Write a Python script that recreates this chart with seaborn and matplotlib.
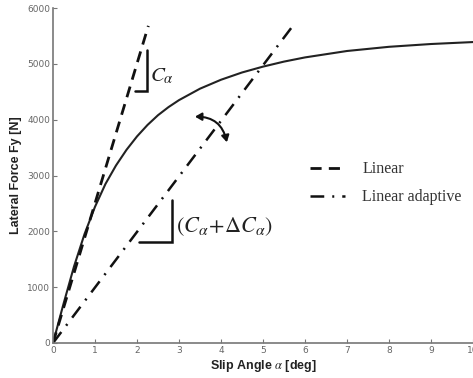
import numpy as np
import pandas as pd
import matplotlib
matplotlib.use("Agg")
import matplotlib.pyplot as plt
from matplotlib.patches import FancyArrowPatch
import seaborn as sns

# Nonlinear tyre lateral force vs slip angle
slip_deg = [0, 0.25, 0.5, 0.75, 1.0, 1.25, 1.5, 1.75, 2.0, 2.25, 2.5, 2.75,
            3.0, 3.5, 4.0, 4.5, 5.0, 5.5, 6.0, 7.0, 8.0, 9.0, 10.0]
force_n = [0, 700, 1370, 1950, 2440, 2850, 3180, 3460, 3700, 3905, 4080, 4225,
           4350, 4555, 4715, 4845, 4950, 5040, 5115, 5230, 5305, 5355, 5390]

# Linear approximations (end points of each line)
linear_x = [0, 2.27]
linear_y = [0, 5680]
adaptive_x = [0, 5.72]
adaptive_y = [0, 5690]

x_ticks = [0, 1, 2, 3, 4, 5, 6, 7, 8, 9, 10]
y_ticks = [0, 1000, 2000, 3000, 4000, 5000, 6000]

sns.set_style("ticks")
plt.rcParams["mathtext.fontset"] = "stix"

W, H = 473, 378
fig = plt.figure(figsize=(W / 100, H / 100), dpi=100)
ax = fig.add_axes([53 / W, (H - 343) / H, 420 / W, 335 / H])

curve = pd.DataFrame({"slip": slip_deg, "force": force_n})
lin = pd.DataFrame({"slip": linear_x, "force": linear_y})
adp = pd.DataFrame({"slip": adaptive_x, "force": adaptive_y})

sns.lineplot(data=curve, x="slip", y="force", ax=ax, color="#222222",
             lw=1.5, sort=False)
sns.lineplot(data=lin, x="slip", y="force", ax=ax, color="#111111",
             lw=2.0, sort=False, label="Linear", dashes=False)
sns.lineplot(data=adp, x="slip", y="force", ax=ax, color="#111111",
             lw=1.8, sort=False, label="Linear adaptive", dashes=False)
ax.lines[0].set_solid_joinstyle("round")
ax.lines[1].set_dashes([4, 2.6])
ax.lines[2].set_dashes([5.5, 3.2, 0.8, 3.2])

# slope triangles
ax.plot([1.95, 2.245, 2.245], [4518, 4518, 5245], color="#111111", lw=1.8,
        solid_joinstyle="miter")
ax.text(2.30, 4790, r"$C_{\alpha}$", fontsize=15, va="center", ha="left",
        color="#222222")
ax.plot([2.055, 2.826, 2.826], [1809, 1809, 2554], color="#111111", lw=1.8,
        solid_joinstyle="miter")
ax.text(2.92, 2077, r"$(C_{\alpha}\!+\!\Delta C_{\alpha})$", fontsize=16,
        va="center", ha="left", color="#222222")

# double-headed adjustment arrow
arr = FancyArrowPatch((3.38, 4054), (4.14, 3595),
                      connectionstyle="arc3,rad=-0.4",
                      arrowstyle="<|-|>,head_length=2.6,head_width=1.5",
                      color="#111111", lw=1.5, mutation_scale=1.5,
                      shrinkA=0, shrinkB=0)
ax.add_patch(arr)

ax.set_xlim(0, 10)
ax.set_ylim(0, 6000)
ax.set_xticks(x_ticks)
ax.set_yticks(y_ticks)
ax.tick_params(direction="in", length=3, width=0.8, colors="#777777",
               labelsize=6.5, labelcolor="#666666", pad=2)
for s in ["top", "right"]:
    ax.spines[s].set_visible(False)
for s in ["left", "bottom"]:
    ax.spines[s].set_color("#777777")
    ax.spines[s].set_linewidth(1.2)

ax.set_xlabel(r"Slip Angle $\alpha$ [deg]", fontsize=9, fontweight="bold",
              family="Liberation Sans", color="#222222", labelpad=2)
ax.set_ylabel("Lateral Force Fy [N]", fontsize=9, fontweight="bold",
              family="Liberation Sans", color="#222222", labelpad=4)

leg = ax.legend(loc="upper left", bbox_to_anchor=(0.577, 0.585), frameon=False,
                handlelength=2.2, handletextpad=1.1, labelspacing=0.75,
                prop={"family": "Liberation Serif", "size": 11.5})
for t in leg.get_texts():
    t.set_color("#333333")

fig.savefig("out.png", dpi=100)
